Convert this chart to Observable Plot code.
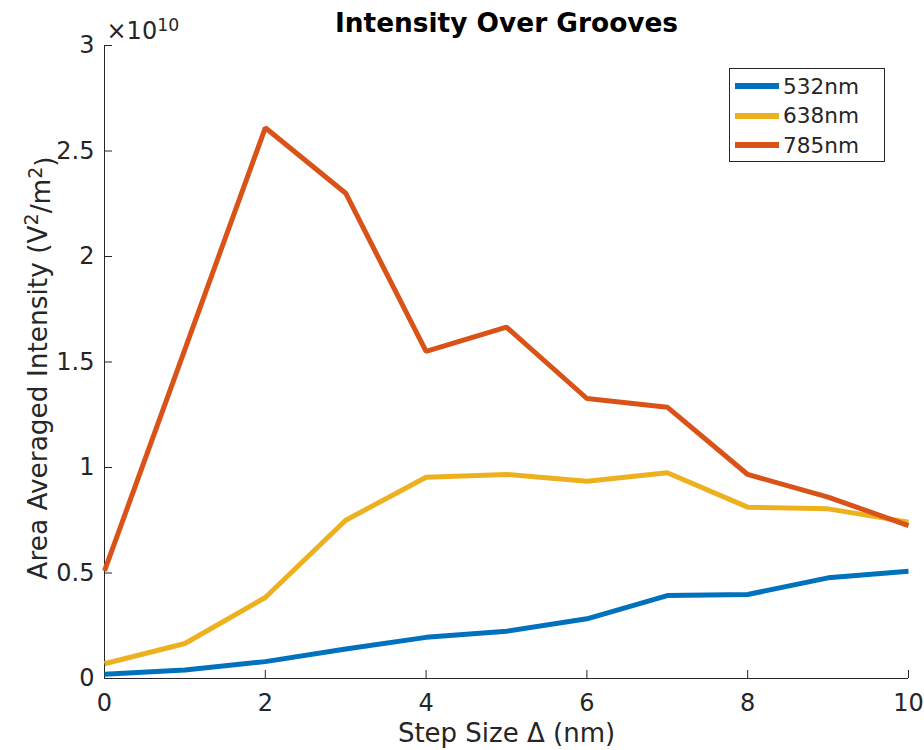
<!DOCTYPE html>
<html><head><meta charset="utf-8">
<script src="https://cdn.jsdelivr.net/npm/d3@7"></script>
<script src="https://cdn.jsdelivr.net/npm/@observablehq/plot@0.6"></script>
<style>
body{margin:0;background:#fff;font-family:"DejaVu Sans",sans-serif}
#wrap{position:relative;width:924px;height:750px}
#legend{position:absolute;left:729px;top:68px;width:156px;height:94px;border:1px solid #262626;background:#fff;box-sizing:border-box;}
.row{position:absolute;left:5px;height:30px;display:flex;align-items:center;font-size:21.6px;color:#262626}
.sw{width:44px;height:6px;margin-right:4px}
</style></head>
<body><div id="wrap"></div>
<script>
const steps = [0,1,2,3,4,5,6,7,8,9,10];
const series = ["532nm","638nm","785nm"];
const colors = ["#0072BD","#EDB120","#D95319"];
// values in units of 1e10 V^2/m^2
const v532 = [0.02,0.04,0.08,0.14,0.195,0.224,0.283,0.393,0.398,0.477,0.508];
const v638 = [0.07,0.166,0.384,0.75,0.954,0.967,0.935,0.975,0.812,0.804,0.741];
const v785 = [0.51,1.56,2.61,2.30,1.55,1.665,1.327,1.286,0.967,0.86,0.725];
const xTicks = [0,2,4,6,8,10];
const yTicks = [0,0.5,1,1.5,2,2.5,3];
const yTickLabels = ["0","0.5","1","1.5","2","2.5","3"];
const titleText = "Intensity Over Grooves";
const xLabel = "Step Size Δ (nm)";
const yLabelParts = [["Area Averaged Intensity (V",false],["2",true],["/m",false],["2",true],[")",false]];
const expParts = [["×10",false],["10",true]];

const vals = [v532,v638,v785];
const data = [];
series.forEach((s,i)=>steps.forEach((x,j)=>data.push({series:s,x,y:vals[i][j]})));

const ink = "#262626";
const font = "DejaVu Sans, sans-serif";
const plot = Plot.plot({
  width:924, height:750,
  marginLeft:104, marginRight:16, marginTop:45, marginBottom:72,
  style:{fontFamily:font, fontSize:"24px", color:ink, background:"#fff"},
  x:{domain:[0,10], label:null},
  y:{domain:[0,3], label:null},
  color:{domain:series, range:colors},
  marks:[
    Plot.ruleX([0],{stroke:ink, strokeWidth:1}),
    Plot.ruleY([0],{stroke:ink, strokeWidth:1}),
    Plot.axisX({ticks:xTicks, tickSize:0, tickPadding:15, fontSize:24, label:null}),
    Plot.axisX({ticks:xTicks, tickSize:-8, text:null, stroke:ink, label:null}),
    Plot.axisY({ticks:yTicks, tickFormat:d=>yTickLabels[yTicks.indexOf(d)], tickSize:0, tickPadding:10, fontSize:24, label:null}),
    Plot.axisY({ticks:yTicks, tickSize:-8, text:null, stroke:ink, label:null}),
    Plot.line(data,{x:"x", y:"y", stroke:"series", strokeWidth:5, strokeLinejoin:"miter", strokeLinecap:"butt"}),
    Plot.text([titleText],{frameAnchor:"top", lineAnchor:"middle", dy:-22, fontWeight:"bold", fontSize:26.4, fill:"#000"}),
    Plot.text(["×10"],{frameAnchor:"top-left", lineAnchor:"middle", dx:2, dy:-14, textAnchor:"start", fontSize:24, fill:ink, className:"expo"}),
    Plot.text([xLabel],{frameAnchor:"bottom", lineAnchor:"middle", dy:55, fontSize:26, fill:ink}),
    Plot.text(["Area Averaged Intensity"],{frameAnchor:"left", lineAnchor:"middle", textAnchor:"middle", dx:-66, dy:6, rotate:-90, fontSize:26.4, fill:ink, className:"ylab"})
  ]
});
document.getElementById("wrap").appendChild(plot);

function supify(sel, parts){
  const t = d3.select(plot).select(sel + " text");
  t.text(null);
  let prevSup = false;
  parts.forEach(([s,sup])=>{
    const ts = t.append("tspan").text(s);
    if (sup && !prevSup) ts.attr("dy","-0.45em");
    else if (!sup && prevSup) ts.attr("dy","0.45em");
    if (sup) ts.attr("font-size","0.72em");
    prevSup = sup;
  });
}
supify(".ylab", yLabelParts);
supify(".expo", expParts);

const leg = document.createElement("div");
leg.id = "legend";
series.forEach((s,i)=>{
  const r = document.createElement("div");
  r.className = "row";
  r.style.top = (2 + i*29.5) + "px";
  r.innerHTML = `<div class="sw" style="background:${colors[i]}"></div><span>${s}</span>`;
  leg.appendChild(r);
});
document.getElementById("wrap").appendChild(leg);
</script></body></html>
